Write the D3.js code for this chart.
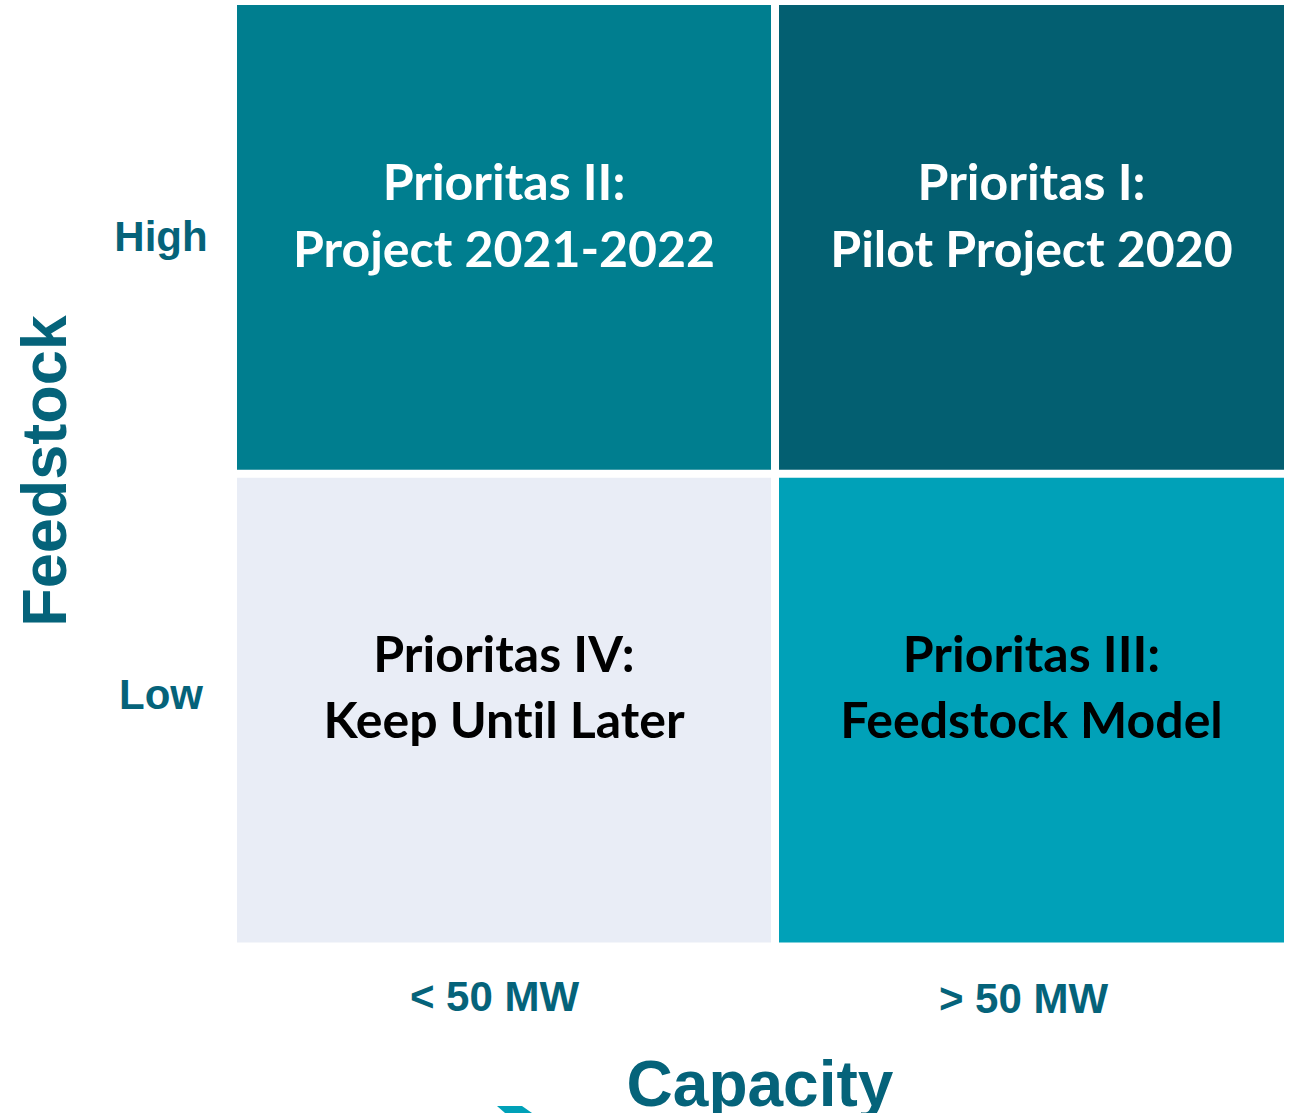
<!DOCTYPE html>
<html>
<head>
<meta charset="utf-8">
<script src="https://cdn.jsdelivr.net/npm/d3@7"></script>
<style>
  html, body { margin: 0; padding: 0; background: #ffffff; }
  svg { display: block; }
  text { font-variant-ligatures: none; font-feature-settings: "liga" 0, "clig" 0; }
</style>
</head>
<body>
<svg id="chart" width="1291" height="1113"></svg>
<script>
// ---- Data ----
const capacityBins = ["< 50 MW", "> 50 MW"];          // x categories
const capacityEdges = [0, 50, 100];                      // MW bin edges (schematic)
const feedstockLevels = ["High", "Low"];                 // y categories
const cellCol = [0, 1, 0, 1];
const cellRow = [0, 0, 1, 1];
const cellLine1 = ["Prioritas II:", "Prioritas I:", "Prioritas IV:", "Prioritas III:"];
const cellLine2 = ["Project 2021-2022", "Pilot Project 2020", "Keep Until Later", "Feedstock Model"];
const cellTone = ["mid", "dark", "pale", "bright"];
const xTitle = "Capacity";
const yTitle = "Feedstock";

// ---- Styles ----
const toneFill = { mid: "#007e8f", dark: "#035f71", pale: "#e9edf6", bright: "#00a1b8" };
const toneText = { mid: "#ffffff", dark: "#ffffff", pale: "#000000", bright: "#000000" };
const axisColor = "#05637a";
const cellFont = "Lato, 'Open Sans', sans-serif";
const axisFont = "'Liberation Sans', Arial, sans-serif";

const svg = d3.select("#chart");

// ---- Scales ----
const x = d3.scaleLinear().domain(capacityEdges).range([237, 775, 1284]);
const rowGap = 8;
const y = d3.scaleBand().domain(feedstockLevels).range([5, 942.5])
  .paddingInner(rowGap / ((942.5 - 5 + rowGap) / 2));
const gap = 4;

const cells = cellCol.map((c, i) => ({
  x0: x(capacityEdges[c]) + (c === 0 ? 0 : gap),
  x1: x(capacityEdges[c + 1]) - (c === 0 ? gap : 0),
  level: feedstockLevels[cellRow[i]],
  row: cellRow[i],
  l1: cellLine1[i], l2: cellLine2[i], tone: cellTone[i]
}));

const g = svg.append("g");
g.selectAll("rect.cell").data(cells).join("rect")
  .attr("class", "cell")
  .attr("x", d => d.x0)
  .attr("y", d => y(d.level))
  .attr("width", d => d.x1 - d.x0)
  .attr("height", y.bandwidth())
  .attr("fill", d => toneFill[d.tone]);

const labels = g.selectAll("text.cell").data(cells).join("text")
  .attr("class", "cell")
  .attr("text-anchor", "middle")
  .attr("font-family", cellFont)
  .attr("font-weight", 700)
  .attr("font-size", 50)
  .attr("fill", d => toneText[d.tone]);
labels.append("tspan")
  .attr("x", d => (d.x0 + d.x1) / 2)
  .attr("y", d => y(d.level) + (d.row === 0 ? 195 : 194))
  .text(d => d.l1);
labels.append("tspan")
  .attr("x", d => (d.x0 + d.x1) / 2)
  .attr("y", d => y(d.level) + (d.row === 0 ? 262 : 260))
  .text(d => d.l2);

// ---- Y category labels ----
svg.selectAll("text.ylab").data(feedstockLevels).join("text")
  .attr("class", "ylab")
  .attr("x", 161)
  .attr("y", (d, i) => y(d) + (i === 0 ? 246 : 231))
  .attr("text-anchor", "middle")
  .attr("font-family", axisFont)
  .attr("font-weight", 700)
  .attr("font-size", 42)
  .attr("fill", axisColor)
  .text(d => d);

// ---- X category labels ----
svg.selectAll("text.xlab").data(capacityBins).join("text")
  .attr("class", "xlab")
  .attr("x", (d, i) => i === 0 ? 494.5 : 1023.5)
  .attr("y", (d, i) => i === 0 ? 1011 : 1013)
  .attr("text-anchor", "middle")
  .attr("font-family", axisFont)
  .attr("font-weight", 700)
  .attr("font-size", 42)
  .attr("fill", axisColor)
  .text(d => d);

// ---- Axis titles ----
svg.append("text")
  .attr("x", 760).attr("y", 1106)
  .attr("text-anchor", "middle")
  .attr("font-family", axisFont)
  .attr("font-weight", 700)
  .attr("font-size", 64)
  .attr("fill", axisColor)
  .text(xTitle);

svg.append("text")
  .attr("transform", "translate(66,471) rotate(-90)")
  .attr("text-anchor", "middle")
  .attr("font-family", axisFont)
  .attr("font-weight", 700)
  .attr("font-size", 63)
  .attr("fill", axisColor)
  .text(yTitle);

// small cut-off arrow fragment at bottom edge
svg.append("path")
  .attr("d", "M497,1106 L522,1106 L532,1113 L505,1113 Z")
  .attr("fill", "#00a1b8");
</script>
</body>
</html>
